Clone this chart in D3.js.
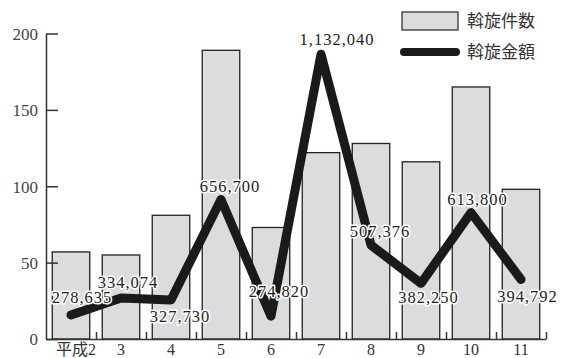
<!DOCTYPE html>
<html><head><meta charset="utf-8">
<script src="https://cdn.jsdelivr.net/npm/d3@7"></script>
<style>
html,body{margin:0;padding:0;background:#fff;}
svg{display:block;}
</style></head>
<body>
<svg id="chart" width="563" height="358"></svg>
<script>
// ---- data ----
const categories = ["平成2","3","4","5","6","7","8","9","10","11"];
const counts = [57, 55, 81, 189, 73, 122, 128, 116, 165, 98];          // 斡旋件数
const amounts = [278635, 334074, 327730, 656700, 274820, 1132040, 507376, 382250, 613800, 394792]; // 斡旋金額
const yTicks = [0, 50, 100, 150, 200];
const legendLabels = ["斡旋件数", "斡旋金額"];

// ---- layout ----
const svg = d3.select("#chart");
const mLeft = 46, mRight = 546, mBottom = 339, mTop = 33.5;
const serif = "'Liberation Serif','Noto Sans CJK JP',serif";
const cjk = "'Noto Sans CJK JP','Liberation Serif',sans-serif";

const x = d3.scaleBand().domain(categories).range([mLeft, mRight]).paddingInner(0.25).paddingOuter(0.125);
const xEdge = d3.scaleLinear().domain([0, categories.length]).range([mLeft, mRight]);
const y = d3.scaleLinear().domain([0, 200]).range([mBottom, mTop]);
const y2 = d3.scaleLinear().domain([200000, 1200000]).range([mBottom, mTop]);

// bars
svg.append("g").selectAll("rect").data(counts).join("rect")
  .attr("x", (d, i) => x(categories[i]))
  .attr("y", d => y(d))
  .attr("width", x.bandwidth())
  .attr("height", d => mBottom - y(d))
  .attr("fill", "#dcdcde")
  .attr("stroke", "#222")
  .attr("stroke-width", 1.3);

// y axis
const yAxis = svg.append("g").attr("transform", `translate(${mLeft},0)`)
  .call(d3.axisLeft(y).tickValues(yTicks).tickSizeInner(-12).tickSizeOuter(0).tickPadding(8));
yAxis.select(".domain").attr("stroke", "#333").attr("stroke-width", 1.5);
yAxis.selectAll(".tick line").attr("stroke", "#333").attr("stroke-width", 1.5);
yAxis.selectAll(".tick text").attr("font-family", serif).attr("font-size", 17).attr("fill", "#444").attr("dy", "0.35em");

// x axis edges ticks
const xTickAxis = svg.append("g").attr("transform", `translate(0,${mBottom})`)
  .call(d3.axisBottom(xEdge).tickValues(d3.range(1, categories.length + 1)).tickSizeInner(-7).tickSizeOuter(0).tickFormat(""));
xTickAxis.select(".domain").attr("stroke", "#333").attr("stroke-width", 1.5);
xTickAxis.selectAll(".tick line").attr("stroke", "#333").attr("stroke-width", 1.5);

// x labels
const xAxis = svg.append("g").attr("transform", `translate(0,${mBottom})`)
  .call(d3.axisBottom(x).tickSize(0).tickPadding(0));
xAxis.select(".domain").remove();
xAxis.selectAll(".tick text")
  .attr("font-family", serif).attr("font-size", 16).attr("fill", "#333")
  .attr("y", 15.5).attr("dy", 0)
  .attr("dx", (d, i) => i === 0 ? 5 : 0);

// line
const line = d3.line()
  .x((d, i) => x(categories[i]) + x.bandwidth() / 2)
  .y(d => y2(d));
svg.append("path").datum(amounts)
  .attr("d", line)
  .attr("fill", "none")
  .attr("stroke", "#1a1a1a")
  .attr("stroke-width", 9)
  .attr("stroke-linejoin", "round")
  .attr("stroke-linecap", "round");

// value labels (offsets relative to the point)
const labelOffsets = [[11,-12],[7,-10.5],[9,21.7],[9,-7],[8,-19],[16,-9.3],[9,-8.4],[7.5,20],[6.5,-7.6],[6.5,22.3]];
svg.append("g").selectAll("text").data(amounts).join("text")
  .attr("x", (d, i) => x(categories[i]) + x.bandwidth() / 2 + labelOffsets[i][0])
  .attr("y", (d, i) => y2(d) + labelOffsets[i][1])
  .attr("text-anchor", "middle")
  .attr("font-family", serif)
  .attr("font-size", 16.5)
  .attr("letter-spacing", 1)
  .attr("fill", "#222")
  .attr("stroke", "#fff")
  .attr("stroke-width", 3)
  .attr("stroke-linejoin", "round")
  .attr("paint-order", "stroke")
  .text(d => d3.format(",")(d));

// legend
const lg = svg.append("g");
lg.append("rect").attr("x", 402).attr("y", 12).attr("width", 56).attr("height", 18)
  .attr("fill", "#dcdcde").attr("stroke", "#333").attr("stroke-width", 1.3);
lg.append("line").attr("x1", 404).attr("x2", 456).attr("y1", 52).attr("y2", 52)
  .attr("stroke", "#1a1a1a").attr("stroke-width", 8).attr("stroke-linecap", "round");
lg.selectAll("text").data(legendLabels).join("text")
  .attr("x", 467).attr("y", (d, i) => i === 0 ? 21 : 52)
  .attr("dy", "0.36em")
  .attr("font-family", cjk).attr("font-size", 17).attr("fill", "#333")
  .text(d => d);
</script>
</body></html>
